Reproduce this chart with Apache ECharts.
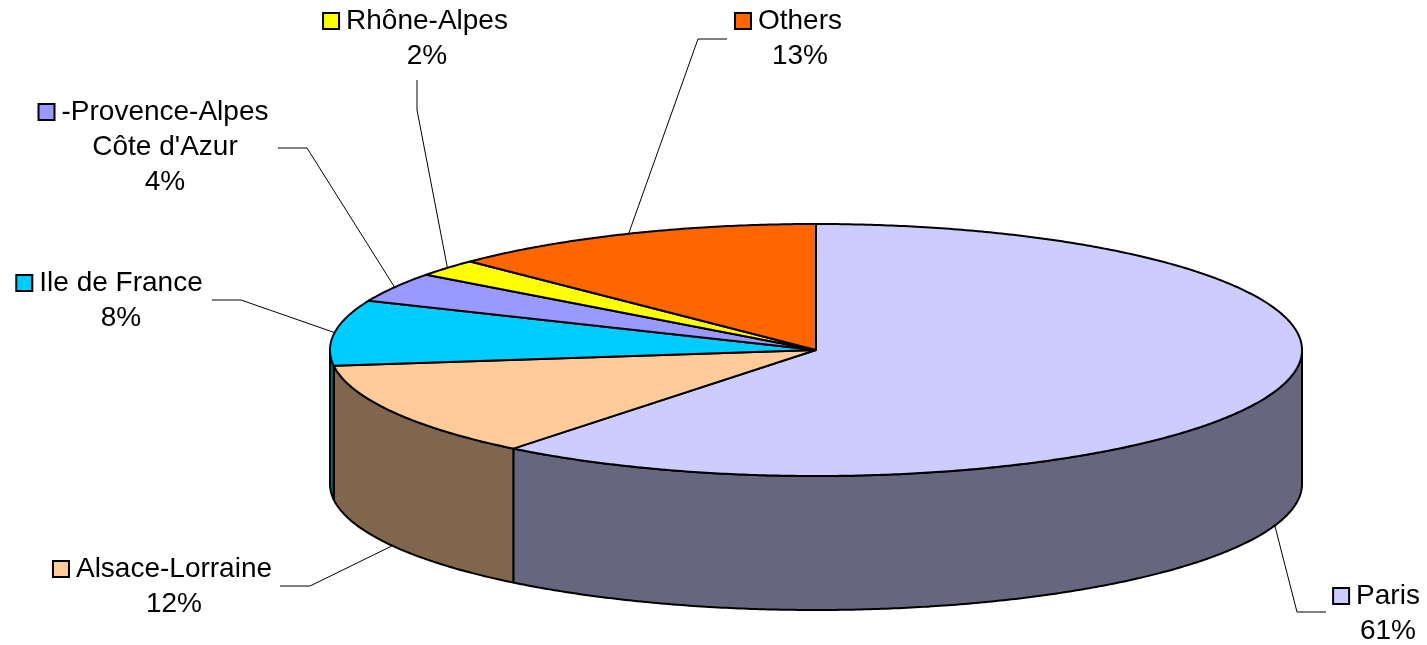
<!DOCTYPE html>
<html>
<head>
<meta charset="utf-8">
<title>Regions</title>
<script src="https://cdn.jsdelivr.net/npm/echarts@6/dist/echarts.min.js"></script>
<style>
  html, body { margin: 0; padding: 0; background: #fff; }
  #chart { width: 1427px; height: 645px; }
</style>
</head>
<body>
<div id="chart"></div>
<script>
// Slice data, clockwise from 12 o'clock
const categories = ['Paris', 'Alsace-Lorraine', 'Ile de France', '-Provence-Alpes\nCôte d\'Azur', 'Rhône-Alpes', 'Others']
const shares = [60.7, 12.3, 8.4, 3.8, 2.2, 12.6]
const sliceColors = ['#CCCCFF', '#FFCC99', '#00CCFF', '#9999FF', '#FFFF00', '#FF6600']

// Pie geometry (pixels)
const pie = { cx: 816, cy: 350, rx: 486, ry: 126, depth: 134 }

// Label placement: centre x / first line centre y, and leader start + elbow
const labelLayout = [
  { at: [1388, 596], leader: [[1326, 612], [1297, 612]] },
  { at: [174, 569], leader: [[280, 586], [310, 586]] },
  { at: [121, 283], leader: [[212, 300], [241, 300]] },
  { at: [165, 112], leader: [[278, 148], [307, 148]] },
  { at: [427, 21], leader: [[417, 80], [417, 110]] },
  { at: [800, 21], leader: [[727, 39], [698, 39]] }
]

const FONT_SIZE = 28
const LINE_H = 35
const FONT = FONT_SIZE + 'px "Liberation Sans", Arial, sans-serif'

const total = shares.reduce((a, b) => a + b, 0)
const starts = []
shares.reduce((acc, v) => { starts.push(acc); return acc + v }, 0)

const measureCtx = document.createElement('canvas').getContext('2d')
measureCtx.font = FONT

// point on ellipse, angle measured clockwise from top
const pt = (a, dy) => [pie.cx + pie.rx * Math.sin(a), pie.cy - pie.ry * Math.cos(a) + dy]

const arc = (a0, a1, dy) => {
  const n = Math.max(2, Math.ceil(Math.abs(a1 - a0) / (Math.PI / 360)))
  const pts = []
  for (let k = 0; k <= n; k++) pts.push(pt(a0 + (a1 - a0) * k / n, dy))
  return pts
}

const darken = (hex) => {
  const n = parseInt(hex.slice(1), 16)
  const r = (n >> 16) >> 1, g = ((n >> 8) & 255) >> 1, b = (n & 255) >> 1
  return 'rgb(' + r + ',' + g + ',' + b + ')'
}

function renderItem(params, api) {
  const i = params.dataIndex
  const v = api.value(1)
  const a0 = starts[i] / total * Math.PI * 2
  const a1 = (starts[i] + v) / total * Math.PI * 2
  const color = sliceColors[i]
  const children = []

  // visible outer wall (front half)
  const s = Math.max(a0, Math.PI / 2)
  const e = Math.min(a1, Math.PI * 1.5)
  if (e > s) {
    children.push({
      type: 'polygon',
      z2: 0,
      shape: { points: arc(s, e, 0).concat(arc(e, s, pie.depth)) },
      style: { fill: darken(color), stroke: '#000', lineWidth: 2, lineJoin: 'round' }
    })
  }

  // top face
  children.push({
    type: 'polygon',
    z2: 1,
    shape: { points: [[pie.cx, pie.cy]].concat(arc(a0, a1, 0)) },
    style: { fill: color, stroke: '#000', lineWidth: 2, lineJoin: 'round' }
  })

  // leader line to slice middle
  const mid = (a0 + a1) / 2
  const onWall = mid > Math.PI / 2 && mid < Math.PI * 1.5
  const anchor = pt(mid, onWall ? pie.depth : 0)
  const lay = labelLayout[i]
  children.push({
    type: 'polyline',
    z2: 2,
    shape: { points: [lay.leader[0], lay.leader[1], anchor] },
    style: { stroke: '#000', lineWidth: 1, fill: null }
  })

  // label text
  const pct = Math.round(v / total * 100) + '%'
  children.push({
    type: 'text',
    z2: 3,
    x: lay.at[0],
    y: lay.at[1] - LINE_H / 2,
    style: {
      text: categories[i] + '\n' + pct,
      font: FONT,
      fill: '#000',
      align: 'center',
      verticalAlign: 'top',
      lineHeight: LINE_H
    }
  })

  // legend key box in front of first line
  const w = measureCtx.measureText(categories[i].split('\n')[0]).width
  children.push({
    type: 'rect',
    z2: 3,
    shape: { x: lay.at[0] - w / 2 - 7 - 16, y: lay.at[1] - 8, width: 16, height: 16 },
    style: { fill: color, stroke: '#000', lineWidth: 2 }
  })

  return { type: 'group', children }
}

const chart = echarts.init(document.getElementById('chart'), null, { renderer: 'canvas' })
chart.setOption({
  animation: false,
  backgroundColor: '#fff',
  series: [{
    type: 'custom',
    coordinateSystem: 'none',
    renderItem,
    data: shares.map((v, i) => [i, v])
  }]
})
</script>
</body>
</html>
